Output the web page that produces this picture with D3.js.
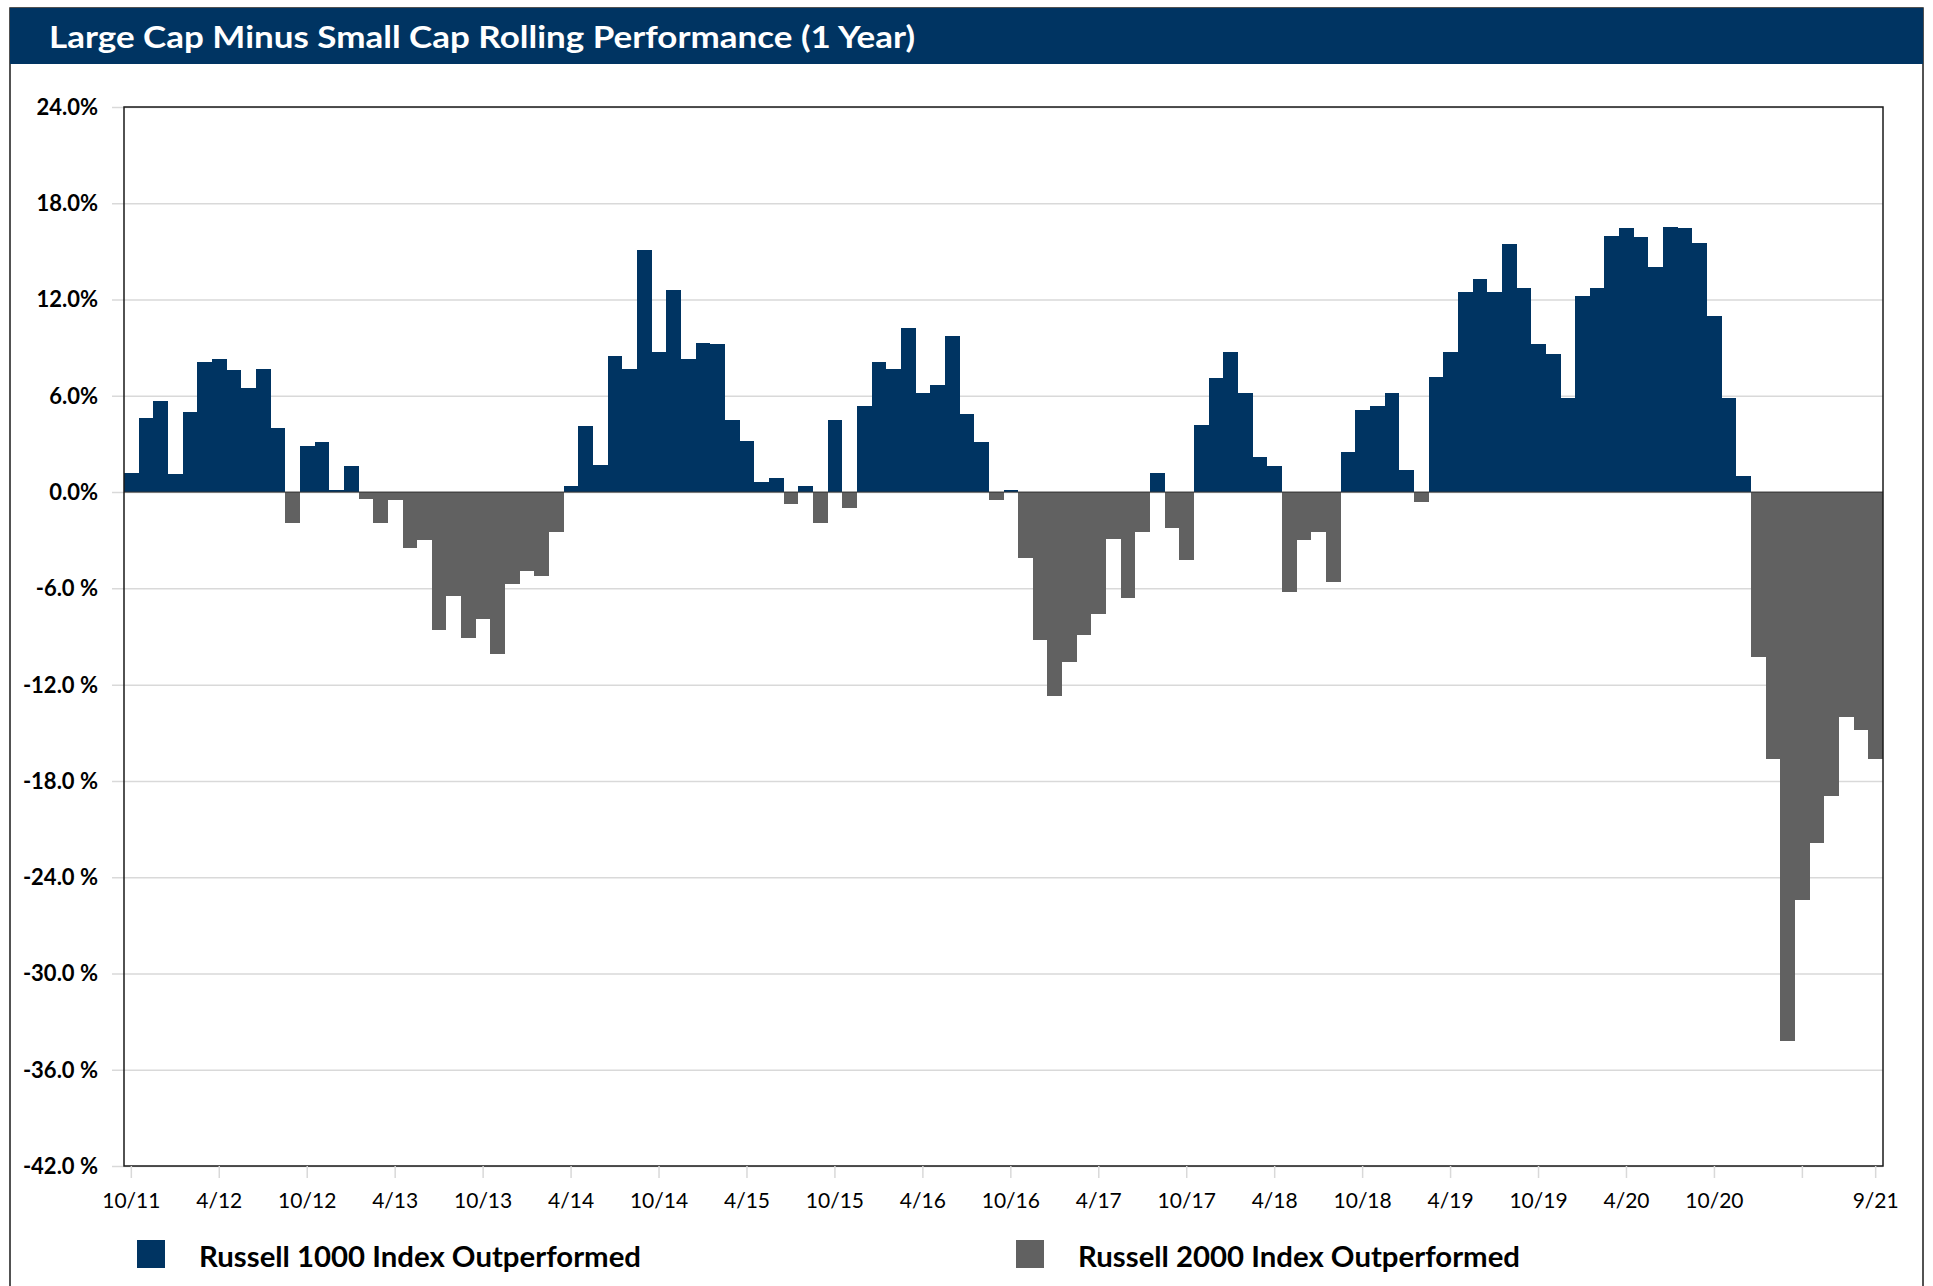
<!DOCTYPE html>
<html>
<head>
<meta charset="utf-8">
<script src="https://cdn.jsdelivr.net/npm/d3@7"></script>
<style>
  body { margin: 0; background: #fff; }
  text { font-family: Lato, "Open Sans", sans-serif; }
</style>
</head>
<body>
<div id="chart"></div>
<script>
// 1 year rolling return, Russell 1000 minus Russell 2000 (%), monthly 10/11 .. 9/21
var startMonth = new Date(2011, 9, 1);
var spread = [
  1.2, 4.6, 5.7, 1.1, 5.0, 8.1, 8.3, 7.6, 6.5, 7.7, 4.0, -1.9,
  2.9, 3.1, 0.1, 1.6, -0.4, -1.9, -0.5, -3.5, -3.0, -8.6, -6.5, -9.1,
  -7.9, -10.1, -5.7, -4.9, -5.2, -2.5, 0.35, 4.1, 1.7, 8.5, 7.7, 15.1,
  8.7, 12.6, 8.3, 9.3, 9.2, 4.5, 3.2, 0.6, 0.85, -0.75, 0.35, -1.9,
  4.5, -1.0, 5.35, 8.1, 7.7, 10.2, 6.2, 6.7, 9.7, 4.85, 3.1, -0.5,
  0.1, -4.1, -9.2, -12.7, -10.6, -8.9, -7.6, -2.9, -6.6, -2.5, 1.2, -2.25,
  -4.25, 4.2, 7.1, 8.7, 6.2, 2.2, 1.6, -6.25, -3.0, -2.5, -5.6, 2.5,
  5.1, 5.35, 6.2, 1.35, -0.6, 7.2, 8.7, 12.45, 13.3, 12.45, 15.45, 12.7,
  9.2, 8.6, 5.85, 12.2, 12.7, 15.95, 16.45, 15.9, 14.05, 16.55, 16.45, 15.55,
  10.95, 5.85, 1.0, -10.3, -16.65, -34.2, -25.4, -21.9, -18.95, -14.0, -14.85, -16.65
];
var fmtMonth = d3.timeFormat("%-m/%y");
var months = spread.map((d, i) => fmtMonth(d3.timeMonth.offset(startMonth, i)));

var xTicks = ["10/11","4/12","10/12","4/13","10/13","4/14","10/14","4/15","10/15","4/16",
  "10/16","4/17","10/17","4/18","10/18","4/19","10/19","4/20","10/20","4/21","9/21"];
var xTickLabels = xTicks.map(t => t == "4/21" ? "" : t);
var yTicks = d3.range(-42, 25, 6);
var seriesNames = ["Russell 1000 Index Outperformed", "Russell 2000 Index Outperformed"];
var seriesColors = ["#003462", "#616161"];

var W = 1933, H = 1286;
var margin = {top: 107, right: 50, bottom: 120, left: 124},
  width = W - margin.left - margin.right,
  height = H - margin.top - margin.bottom;

var svg = d3.select("#chart")
    .append("svg")
    .attr("width", W)
    .attr("height", H);

// outer frame + header band
svg.append("rect")
    .attr("x", 10).attr("y", 8)
    .attr("width", 1913).attr("height", 1300)
    .style("fill", "#fff")
    .style("stroke", "#1a1a1a")
    .style("stroke-width", 1.5);
svg.append("rect")
    .attr("x", 10).attr("y", 8)
    .attr("width", 1913).attr("height", 56)
    .style("fill", "#003462");
svg.append("text")
    .attr("x", 49).attr("y", 48)
    .attr("textLength", 866)
    .attr("lengthAdjust", "spacingAndGlyphs")
    .style("font-size", "31px")
    .style("font-weight", "bold")
    .style("fill", "#fff")
    .text("Large Cap Minus Small Cap Rolling Performance (1 Year)");

var g = svg.append("g")
    .attr("transform", "translate(" + margin.left + "," + margin.top + ")");

var x = d3.scaleBand()
    .domain(months)
    .range([0, width])
    .padding(0);

var y = d3.scaleLinear()
    .domain([-42, 24])
    .range([height, 0]);

// gridlines with short outside ticks
var yAxis = g.append("g")
    .call(d3.axisLeft(y).tickValues(yTicks).tickSize(-width - 12).tickFormat(""))
    .attr("transform", "translate(-12,0)");
yAxis.select(".domain").remove();
yAxis.selectAll("line")
    .attr("x1", 0).attr("x2", width + 12)
    .style("stroke", "#d9d9d9")
    .style("stroke-width", 1.5);

g.selectAll(".ylab")
    .data(yTicks)
    .enter()
    .append("text")
    .attr("class", "ylab")
    .attr("x", -26)
    .attr("y", d => y(d))
    .attr("dy", "0.36em")
    .style("text-anchor", "end")
    .style("font-size", "22px")
    .style("font-weight", "bold")
    .style("fill", "#000")
    .text(d => d < 0 ? d.toFixed(1) + " %" : d.toFixed(1) + "%");

// bars
g.selectAll(".bar")
    .data(spread)
    .enter()
    .append("rect")
    .attr("class", "bar")
    .attr("x", (d, i) => x(months[i]))
    .attr("width", x.bandwidth())
    .attr("y", d => y(Math.max(0, d)))
    .attr("height", d => Math.abs(y(d) - y(0)))
    .style("shape-rendering", "crispEdges")
    .style("fill", d => d >= 0 ? seriesColors[0] : seriesColors[1]);

// zero line
g.append("line")
    .attr("x1", 0).attr("x2", width)
    .attr("y1", y(0)).attr("y2", y(0))
    .style("stroke", "#333")
    .style("stroke-width", 1);

// plot frame
g.append("rect")
    .attr("width", width).attr("height", height)
    .style("fill", "none")
    .style("stroke", "#1a1a1a")
    .style("stroke-width", 1.5);

// x axis
var xAxis = g.append("g")
    .attr("transform", "translate(0," + height + ")")
    .call(d3.axisBottom(x).tickValues(xTicks).tickSize(12).tickSizeOuter(0)
      .tickFormat((d, i) => xTickLabels[i]));
xAxis.select(".domain").remove();
xAxis.selectAll("line")
    .style("stroke", "#d9d9d9")
    .style("stroke-width", 1.5);
xAxis.selectAll("text")
    .attr("y", 0)
    .attr("dy", 0)
    .attr("transform", "translate(0,42)")
    .style("font-family", "Lato, sans-serif")
    .style("font-size", "21px")
    .style("fill", "#000");

// legend
var legendX = [137, 1016];
var legend = svg.selectAll(".legend")
    .data(seriesNames)
    .enter()
    .append("g")
    .attr("class", "legend")
    .attr("transform", (d, i) => "translate(" + legendX[i] + ",1240)");
legend.append("rect")
    .attr("width", 28).attr("height", 28)
    .style("fill", (d, i) => seriesColors[i]);
legend.append("text")
    .attr("x", 62).attr("y", 27)
    .attr("textLength", 442)
    .attr("lengthAdjust", "spacingAndGlyphs")
    .style("font-size", "29px")
    .style("font-weight", "bold")
    .style("fill", "#000")
    .text(d => d);
</script>
</body>
</html>
